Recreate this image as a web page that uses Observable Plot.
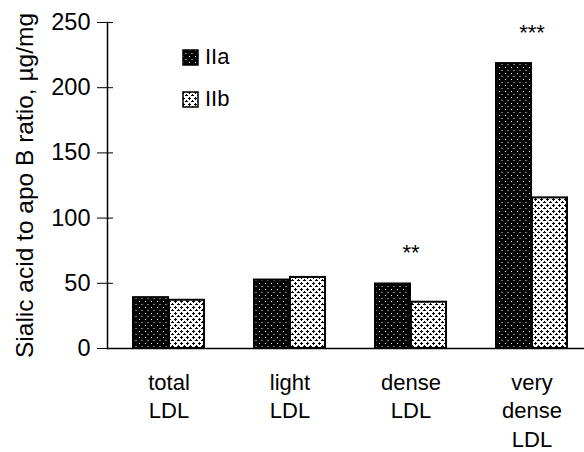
<!DOCTYPE html>
<html><head><meta charset="utf-8">
<script src="https://cdn.jsdelivr.net/npm/d3@7"></script>
<script src="https://cdn.jsdelivr.net/npm/@observablehq/plot@0.6"></script>
<style>
body{margin:0;background:#fff;font-family:"Liberation Sans",Arial,sans-serif;}
#wrap{position:relative;width:584px;height:452px;overflow:hidden;}
.leg{position:absolute;left:182px;display:flex;align-items:center;font-size:22px;color:#000;line-height:1;}
.leg svg{margin-right:6px;display:block;}
</style></head><body><div id="wrap"></div>
<script>
const categories = ["total LDL", "light LDL", "dense LDL", "very dense LDL"];
const tickLabels = ["total\nLDL", "light\nLDL", "dense\nLDL", "very\ndense\nLDL"];
const seriesNames = ["IIa", "IIb"];
const valuesIIa = [39, 52.5, 49.5, 218.5];
const valuesIIb = [37, 54.5, 35.5, 115.5];
const significance = ["", "", "**", "***"];
const yTicks = [0, 50, 100, 150, 200, 250];
const yLabel = "Sialic acid to apo B ratio, \u00b5g/mg";

const rowsA = categories.map((c, i) => ({category: c, series: seriesNames[0], value: valuesIIa[i]}));
const rowsB = categories.map((c, i) => ({category: c, series: seriesNames[1], value: valuesIIb[i]}));
const stars = categories.map((c, i) => ({category: c, top: Math.max(valuesIIa[i], valuesIIb[i]), label: significance[i]})).filter(d => d.label);

const chart = Plot.plot({
  width: 584,
  height: 452,
  marginLeft: 107,
  marginRight: 0,
  marginTop: 22,
  marginBottom: 104,
  style: {fontFamily: "Liberation Sans, Arial, sans-serif", fontSize: "22px", color: "#000", background: "#fff"},
  x: {domain: categories, range: [107, 594], paddingInner: 0.41, paddingOuter: 0.205, label: null},
  y: {domain: [0, 250], label: null},
  marks: [
    Plot.barY(rowsA, {x: "category", y: "value", fill: "url(#patA)", stroke: "#000", strokeWidth: 2, insetRight: 36}),
    Plot.barY(rowsB, {x: "category", y: "value", fill: "url(#patB)", stroke: "#000", strokeWidth: 2, insetLeft: 36}),
    Plot.ruleY([0], {stroke: "#000", strokeWidth: 1.5}),
    Plot.frame({anchor: "left", stroke: "#000", strokeWidth: 1.5}),
    Plot.axisY({ticks: yTicks, tickSize: 16, dx: 6, tickPadding: 7, fontSize: 23, label: null}),
    Plot.axisX({tickSize: 0, tickPadding: 21, fontSize: 22, lineHeight: 1.3, label: null,
      tickFormat: d => tickLabels[categories.indexOf(d)]}),
    Plot.text([yLabel], {text: d => d, frameAnchor: "left", textAnchor: "middle", lineAnchor: "middle", rotate: -90, dx: -82, fontSize: 24.5}),
    Plot.text(stars, {x: "category", y: "top", text: "label", dy: -31, fontSize: 22})
  ]
});

d3.select(chart).selectAll('g[aria-label*="y-axis"] text').style("font-size", "23.5px");
d3.select(chart).selectAll('g[aria-label*="x-axis"] text').style("font-size", "22px");

const defs = d3.select(chart).insert("defs", ":first-child");
const pa = defs.append("pattern").attr("id", "patA").attr("patternUnits", "userSpaceOnUse").attr("width", 6).attr("height", 6);
pa.append("rect").attr("width", 6).attr("height", 6).attr("fill", "#000");
pa.append("rect").attr("x", 1).attr("y", 1).attr("width", 1).attr("height", 1).attr("fill", "#fff");
pa.append("rect").attr("x", 3).attr("y", 4).attr("width", 2).attr("height", 1).attr("fill", "#777");
const pb = defs.append("pattern").attr("id", "patB").attr("patternUnits", "userSpaceOnUse").attr("width", 6).attr("height", 6);
pb.append("rect").attr("width", 6).attr("height", 6).attr("fill", "#fff");
pb.append("rect").attr("x", 1).attr("y", 0).attr("width", 1).attr("height", 3).attr("fill", "#000");
pb.append("rect").attr("x", 0).attr("y", 1).attr("width", 3).attr("height", 1).attr("fill", "#000");
pb.append("rect").attr("x", 3).attr("y", 4).attr("width", 3).attr("height", 1).attr("fill", "#000");
pb.append("rect").attr("x", 4).attr("y", 3).attr("width", 1).attr("height", 1).attr("fill", "#000");

const wrap = document.getElementById("wrap");
wrap.appendChild(chart);

const legTops = [46, 88];
seriesNames.forEach((s, i) => {
  const div = document.createElement("div");
  div.className = "leg";
  div.style.top = legTops[i] + "px";
  div.innerHTML = `<svg width="17" height="17"><rect x="1" y="1" width="15" height="15" fill="url(#pat${i ? "B" : "A"})" stroke="#000" stroke-width="1.5"/></svg><span>${s}</span>`;
  wrap.appendChild(div);
});
</script>
</body></html>
